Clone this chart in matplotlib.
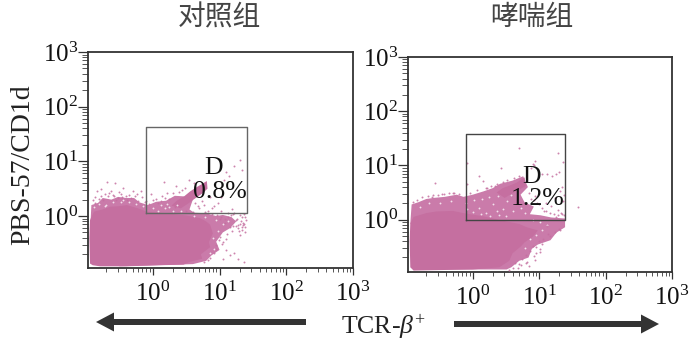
import matplotlib
matplotlib.use("Agg")
import matplotlib.pyplot as plt
import numpy as np
from matplotlib.patches import FancyArrow, Polygon
from matplotlib.ticker import FixedLocator, FixedFormatter, LogLocator, NullFormatter

plt.rcParams['font.family'] = ['Liberation Serif', 'DejaVu Sans']
plt.rcParams['mathtext.fontset'] = 'custom'
plt.rcParams['mathtext.rm'] = 'Liberation Serif'
plt.rcParams['mathtext.it'] = 'Liberation Serif:italic'

titles = ["对照组", "哮喘组"]
percent_labels = ["0.8%", "1.2%"]
tick_values = [1, 10, 100, 1000]
tick_labels = ["$10^{0}$", "$10^{1}$", "$10^{2}$", "$10^{3}$"]

# everything below, as log10(x), log10(y)
core_ctrl = [(-0.94, -0.87), (-0.95, -0.40), (-0.94, -0.07), (-0.88, 0.08), (-0.75, 0.12), (-0.64, 0.17), (-0.50, 0.18),
             (-0.39, 0.20), (-0.22, 0.14), (-0.09, 0.08), (0.21, 0.05), (0.50, 0.01), (0.71, -0.04), (0.80, -0.10),
             (0.86, -0.16), (0.90, -0.32), (0.84, -0.48), (0.86, -0.57), (0.72, -0.70), (0.74, -0.78), (0.55, -0.84),
             (0.46, -0.89), (0.10, -0.90), (-0.40, -0.92), (-0.79, -0.92), (-0.90, -0.90)]
tail_ctrl = [(0.28, 0.19), (0.36, 0.28), (0.47, 0.36), (0.56, 0.45), (0.66, 0.53), (0.73, 0.58), (0.81, 0.64),
             (0.82, 0.50), (0.75, 0.42), (0.61, 0.30), (0.52, 0.22), (0.42, 0.14)]
fringe_ctrl = [(-0.93, -0.05), (-0.92, 0.20), (-0.82, 0.24), (-0.75, 0.33), (-0.62, 0.30), (-0.52, 0.35), (-0.40, 0.33),
               (-0.28, 0.33), (-0.2, 0.25), (-0.07, 0.20), (0.05, 0.26), (0.20, 0.28), (0.33, 0.37), (0.46, 0.36),
               (0.60, 0.30), (0.55, 0.12), (0.62, 0.06), (0.80, 0.05), (0.95, 0.00), (1.05, 0.02), (1.18, -0.02), (1.25, -0.10),
               (1.16, -0.22), (1.05, -0.30), (0.95, -0.47), (1.00, -0.62), (0.88, -0.72), (0.80, -0.82), (0.60, -0.88),
               (-0.5, -0.92)]
dots_ctrl_x = [-0.84, -0.865, -0.69, -0.565, -0.78, -0.72, -0.62, -0.50, -0.44, -0.35, -0.30, -0.24, -0.18,
               -0.60, -0.52, -0.40, -0.10, -0.02, 0.05, 0.14, 0.22, 0.17, 0.35, 0.48, 0.55, 0.62, 0.70,
               0.74, 0.85, 0.92, 0.97, 1.02, 1.06, 1.10, 1.14, 1.22, 1.30, 1.33, 1.02, 1.12, 1.18,
               0.96, 0.88, 0.78, 1.00, 1.08, 1.16, 1.25, 1.35, 1.38, 1.28, 1.20, 1.05, 0.95, 1.32,
               1.10, 1.15, 1.05, 1.22, 1.28, 1.36, 1.20, 1.30, 1.38, 1.34, 0.70, 0.60, 0.50, 0.34,
               -0.90, -0.87, -0.81, -0.77, -0.74, -0.67, -0.66, -0.58, -0.55, -0.47, -0.46, -0.38, -0.33, -0.27,
               -0.22, -0.16, -0.12, -0.05, 0.01, 0.08, 0.12, 0.18, 0.25, 0.30, 0.40, 0.44, 0.58, 0.64, 0.68,
               0.76, 0.82, 0.88, 1.02, 1.08, 1.12, 1.17, 1.22, 1.26, 1.30, 1.33, 1.36, 1.39, 1.37, 1.31, 1.27,
               1.24, 1.34, 1.29, 1.18, 1.11, 1.01, 0.99, 0.94, 0.91, 0.86, 0.83, 0.77, 1.04, 1.09, 1.38, 1.35]
dots_ctrl_y = [0.45, 0.35, 0.63, 0.61, 0.50, 0.40, 0.46, 0.44, 0.52, 0.38, 0.46, 0.40, 0.45,
               0.38, 0.33, 0.36, 0.28, 0.40, 0.31, 0.36, 0.42, 0.63, 0.55, 0.52, 0.66, 0.60, 0.50,
               0.28, 0.34, 0.18, 0.24, 0.35, 0.66, 0.80, 0.74, 0.92, 1.02, 0.85, 0.10, 0.05, 0.12,
               0.02, 0.14, 0.07, -0.05, -0.12, -0.20, -0.08, -0.12, -0.02, -0.22, 0.03, -0.48, -0.60, -0.10,
               -0.62, -0.72, -0.78, -0.68, -0.78, -0.85, -0.18, -0.35, -0.30, -0.25, 0.14, 0.08, 0.10, 0.16,
               0.30, 0.24, 0.31, 0.36, 0.30, 0.37, 0.43, 0.36, 0.29, 0.41, 0.35, 0.29, 0.33, 0.37,
               0.28, 0.35, 0.25, 0.22, 0.30, 0.23, 0.28, 0.33, 0.31, 0.42, 0.44, 0.48, 0.40, 0.23, 0.18,
               0.20, 0.09, 0.04, -0.02, -0.06, -0.01, 0.02, 0.05, -0.05, 0.02, -0.02, 0.03, -0.08, -0.15, -0.14, -0.16,
               -0.19, -0.20, -0.28, -0.28, -0.33, -0.38, -0.44, -0.53, -0.68, -0.76, -0.80, -0.84, -0.52, -0.42, -0.21, -0.17]
holes_ctrl_x = [-0.88, -0.80, -0.70, -0.60, -0.48, -0.36, -0.15, 0.00, 0.12, 0.25, 0.36, 0.30, 0.18, 0.42, 0.62,
                0.78, 0.95, 1.05, 1.12, 0.98, 0.90, 0.92, 0.85, -0.72, -0.45, -0.25, 0.08, 0.22]
holes_ctrl_y = [0.16, 0.22, 0.20, 0.26, 0.25, 0.26, 0.18, 0.14, 0.20, 0.16, 0.20, 0.10, 0.14, 0.10, 0.00,
                -0.02, -0.08, -0.14, -0.10, -0.28, -0.40, -0.60, -0.68, 0.18, 0.29, 0.22, 0.10, 0.22]

core_asth = [(-0.94, -0.88), (-0.95, -0.40), (-0.94, -0.07), (-0.89, 0.05), (-0.70, 0.12), (-0.55, 0.15), (-0.30, 0.16),
             (-0.14, 0.12), (0.16, 0.06), (0.45, -0.02), (0.70, -0.08), (0.81, -0.14), (0.98, -0.20), (0.90, -0.32),
             (0.78, -0.42), (0.72, -0.50), (0.60, -0.62), (0.55, -0.76), (0.40, -0.88), (0.0, -0.92), (-0.89, -0.94)]
tail_asth = [(0.36, 0.50), (0.45, 0.58), (0.54, 0.62), (0.66, 0.68), (0.78, 0.78), (0.80, 0.62), (0.62, 0.50), (0.48, 0.40)]
fringe_asth = [(-0.94, -0.07), (-0.92, 0.28), (-0.82, 0.32), (-0.70, 0.38), (-0.59, 0.40), (-0.42, 0.42), (-0.24, 0.46),
               (-0.14, 0.42), (0.00, 0.46), (0.16, 0.52), (0.30, 0.58), (0.41, 0.66), (0.60, 0.72), (0.76, 0.80),
               (0.83, 0.60), (0.72, 0.46), (0.78, 0.32), (0.92, 0.24), (0.86, 0.10), (1.02, 0.08), (1.18, 0.04),
               (1.39, 0.02), (1.39, -0.14), (1.26, -0.24), (1.17, -0.38), (0.98, -0.46), (0.89, -0.54), (0.84, -0.70),
               (0.70, -0.76), (0.58, -0.88), (0.51, -0.92), (-0.5, -0.92)]
dots_asth_x = [-0.57, 0.70, 0.90, 0.92, 0.93, 0.88, 1.28, 1.36, 1.25, -0.09, -0.09, 0.42, 0.10, 0.16,
               1.05, 1.12, 1.20, 1.30, 1.34, 1.58, 1.38, 1.36, 1.10, 1.00, 0.94, 1.24, 1.32, 1.18,
               1.08, 0.92, 1.28, 0.34, 0.20, -0.60, -0.44, -0.30, 1.35, 1.25, 1.12, 1.05, 0.95, 0.80,
               0.70, 0.68, 1.02, 0.92, 0.85, 0.95,
               -0.90, -0.84, -0.76, -0.68, -0.62, -0.52, -0.46, -0.36, -0.28, -0.20, -0.04, 0.06, 0.22, 0.28, 0.36,
               0.46, 0.52, 0.62, 0.70, 0.84, 0.88, 0.96, 1.04, 1.10, 1.16, 1.22, 1.28, 1.33, 1.37, 1.30, 1.24,
               1.14, 1.06, 1.00, 0.90, 0.86, 0.80, 0.74, 0.72, 0.64, 0.60, 0.55, 1.16, 1.32, 1.02, 0.94, 0.82]
dots_asth_y = [0.68, 1.33, 1.03, 1.00, 1.08, 0.96, 1.22, 1.07, 0.84, 1.04, 0.66, 0.96, 0.80, 0.72,
               0.85, 0.84, 0.80, 0.88, 0.60, 0.24, 0.45, 0.35, 0.30, 0.28, 0.44, 0.40, 0.52, 0.25,
               0.15, 0.36, 0.18, 0.62, 0.58, 0.46, 0.47, 0.50, 0.10, 0.05, -0.12, -0.45, -0.62, -0.80,
               -0.82, -0.90, -0.60, -0.68, -0.85, -0.50,
               0.33, 0.36, 0.42, 0.44, 0.41, 0.45, 0.47, 0.49, 0.50, 0.47, 0.50, 0.54, 0.58, 0.62, 0.65,
               0.70, 0.73, 0.76, 0.80, 0.50, 0.38, 0.30, 0.22, 0.16, 0.12, 0.10, 0.08, 0.13, 0.09, -0.18, -0.22,
               -0.26, -0.36, -0.40, -0.48, -0.58, -0.66, -0.72, -0.84, -0.80, -0.90, -0.93, -0.30, -0.20, -0.54, -0.75, -0.78]
holes_asth_x = [-0.80, -0.66, -0.50, -0.32, -0.10, 0.02, 0.14, 0.24, 0.10, 0.30, 0.38, 0.20, 0.45, 0.52, 0.58, 0.66,
                0.40, 0.26, 0.12, 0.00, -0.08, 0.72, 0.78, 0.60, 0.50, 0.36, 0.90, 1.02, 1.12, 1.05, 0.95, 0.86, 0.78]
holes_asth_y = [0.24, 0.30, 0.30, 0.34, 0.30, 0.36, 0.38, 0.42, 0.22, 0.28, 0.44, 0.12, 0.20, 0.34, 0.46, 0.54,
                0.08, 0.06, 0.10, 0.14, 0.20, 0.22, 0.12, 0.16, 0.06, 0.16, 0.00, -0.04, -0.10, -0.20, -0.28, -0.36, -0.52]

gate_ctrl = (0.785, 25.4, 1.15, 43.0)
gate_asth = (0.785, 24.8, 1.0, 38.6)
label_pos_ctrl = ((8.0, 7.5), (10.0, 2.75))
label_pos_asth = ((7.8, 6.0), (9.6, 2.38))
lims_ctrl = (0.107, 1000, 0.112, 1000)
lims_asth = (0.106, 1000, 0.108, 1000)

dark = "#333333"
pink = "#C56FA0"
mid_pink = "#CA7BAA"


def panel(box, lims, core, tail, fringe, dots, holes, gate, label_pos, pct, gate_col):
    x0, y_top, x1, y_bot = box
    ax = fig.add_axes([x0 / 700, 1 - y_bot / 358, (x1 - x0) / 700, (y_bot - y_top) / 358])
    ax.set_xscale("log")
    ax.set_yscale("log")
    ax.set_xlim(lims[0], lims[1])
    ax.set_ylim(lims[2], lims[3])

    ax.add_patch(Polygon(10.0 ** np.array(fringe), closed=True, fc=mid_pink, ec="none", zorder=1))
    ax.add_patch(Polygon(10.0 ** np.array(tail), closed=True, fc=pink, ec="none", zorder=2))
    ax.add_patch(Polygon(10.0 ** np.array(core), closed=True, fc=pink, ec="none", zorder=2))
    ax.scatter(10.0 ** np.array(holes[0]), 10.0 ** np.array(holes[1]), s=1.8, color="#F3E0EC",
               linewidths=0, zorder=3)
    ax.scatter(10.0 ** np.array(dots[0]), 10.0 ** np.array(dots[1]), s=2.0, color=pink, alpha=0.85,
               linewidths=0, zorder=3)

    gx0, gx1, gy0, gy1 = gate
    ax.plot([gx0, gx1, gx1, gx0, gx0], [gy0, gy0, gy1, gy1, gy0], color=gate_col, lw=1.0, zorder=4)
    ax.text(label_pos[0][0], label_pos[0][1], "D", ha="center", va="center", fontsize=18.5, color="#111111", zorder=5)
    ax.text(label_pos[1][0], label_pos[1][1], pct, ha="center", va="center", fontsize=18.5, color="#111111", zorder=5)

    for axis in (ax.xaxis, ax.yaxis):
        axis.set_major_locator(FixedLocator(tick_values))
        axis.set_major_formatter(FixedFormatter(tick_labels))
        axis.set_minor_locator(LogLocator(base=10, subs=range(2, 10), numticks=12))
        axis.set_minor_formatter(NullFormatter())
    ax.tick_params(axis="x", which="major", length=5, width=0.9, color=dark, labelsize=18, pad=5, labelcolor="#111111")
    ax.tick_params(axis="x", which="minor", length=3, width=0.7, color="#555555")
    ax.tick_params(axis="y", which="major", length=7, width=0.9, color=dark, labelsize=18, pad=0, labelcolor="#111111")
    ax.tick_params(axis="y", which="minor", length=4, width=0.7, color="#555555")
    for side in ax.spines:
        ax.spines[side].set_color(dark)
        ax.spines[side].set_linewidth(1.3)
    return ax


fig = plt.figure(figsize=(7, 3.58), dpi=100)

panel((88, 52, 353, 268), lims_ctrl, core_ctrl, tail_ctrl, fringe_ctrl, (dots_ctrl_x, dots_ctrl_y),
      (holes_ctrl_x, holes_ctrl_y), gate_ctrl, label_pos_ctrl, percent_labels[0], "#666666")
panel((408, 57, 672, 272), lims_asth, core_asth, tail_asth, fringe_asth, (dots_asth_x, dots_asth_y),
      (holes_asth_x, holes_asth_y), gate_asth, label_pos_asth, percent_labels[1], "#444444")

cjk = ['Noto Sans CJK SC', 'DejaVu Sans']
fig.text(219 / 700, 1 - 18 / 358, titles[0], family=cjk, fontsize=20, color="#444444", ha="center", va="center")
fig.text(532 / 700, 1 - 17 / 358, titles[1], family=cjk, fontsize=20, color="#444444", ha="center", va="center")

fig.text(23 / 700, 1 - 165 / 358, "PBS-57/CD1d", rotation=90, fontsize=20, color="#222222", ha="center", va="center")
fig.text(383 / 700, 1 - 327 / 358, "TCR-$\\beta^{+}$", fontsize=18.5, color="#222222", ha="center", va="center")

# big arrows under the axes
fig.add_artist(FancyArrow(306 / 700, 1 - 322 / 358, -210 / 700, 0, width=6 / 358, head_width=19 / 358,
                          head_length=18 / 700, length_includes_head=True, color=dark, lw=0,
                          transform=fig.transFigure))
fig.add_artist(FancyArrow(454 / 700, 1 - 324 / 358, 205 / 700, 0, width=6 / 358, head_width=19 / 358,
                          head_length=18 / 700, length_includes_head=True, color=dark, lw=0,
                          transform=fig.transFigure))

fig.savefig("out.png", dpi=100)
plt.close()
